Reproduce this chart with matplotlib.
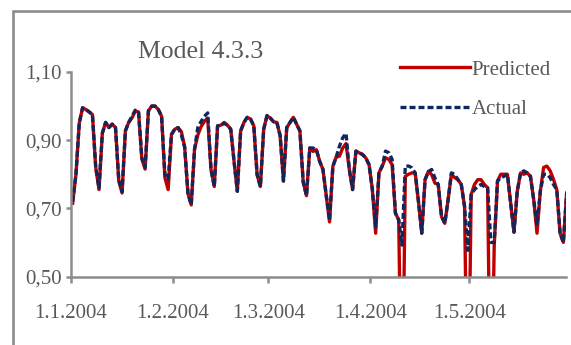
import numpy as np
import matplotlib
matplotlib.use("Agg")
import matplotlib.pyplot as plt
from matplotlib.patches import Rectangle

plt.rcParams['font.family'] = ['Liberation Serif', 'DejaVu Serif']

# daily values, 1.1.2004 .. 30.5.2004
actual = [
    0.72, 0.80, 0.95, 0.995, 0.99, 0.983, 0.975, 0.82, 0.76, 0.92,
    0.952, 0.937, 0.947, 0.937, 0.784, 0.749, 0.927, 0.952, 0.97, 0.988,
    0.983, 0.848, 0.82, 0.986, 1.0, 1.0, 0.99, 0.97, 0.80, 0.785,
    0.917, 0.932, 0.937, 0.915, 0.88, 0.744, 0.71, 0.873, 0.937, 0.955,
    0.97, 0.98, 0.814, 0.764, 0.942, 0.944, 0.949, 0.944, 0.932, 0.838,
    0.75, 0.927, 0.952, 0.967, 0.962, 0.942, 0.799, 0.764, 0.932, 0.972,
    0.965, 0.954, 0.952, 0.913, 0.78, 0.937, 0.952, 0.967, 0.947, 0.927,
    0.777, 0.737, 0.877, 0.877, 0.872, 0.838, 0.814, 0.737, 0.665, 0.823,
    0.85, 0.882, 0.907, 0.92, 0.814, 0.755, 0.868, 0.863, 0.858, 0.848,
    0.828, 0.755, 0.645, 0.804, 0.824, 0.868, 0.863, 0.844, 0.686, 0.666,
    0.592, 0.824, 0.824, 0.819, 0.804, 0.72, 0.627, 0.784, 0.808, 0.814,
    0.789, 0.77, 0.676, 0.656, 0.725, 0.804, 0.80, 0.784, 0.77, 0.705,
    0.577, 0.74, 0.755, 0.764, 0.77, 0.764, 0.76, 0.60, 0.60, 0.78,
    0.79, 0.794, 0.80, 0.715, 0.63, 0.75, 0.804, 0.81, 0.804, 0.794,
    0.725, 0.65, 0.75, 0.80, 0.80, 0.79, 0.77, 0.755, 0.627, 0.60,
    0.745,
]
predicted = [
    0.715, 0.80, 0.95, 0.995, 0.99, 0.983, 0.975, 0.82, 0.755, 0.92,
    0.952, 0.937, 0.947, 0.937, 0.78, 0.745, 0.927, 0.952, 0.965, 0.985,
    0.983, 0.845, 0.815, 0.986, 1.0, 1.0, 0.99, 0.97, 0.79, 0.755,
    0.917, 0.932, 0.937, 0.925, 0.88, 0.744, 0.71, 0.873, 0.915, 0.94,
    0.955, 0.965, 0.814, 0.764, 0.942, 0.944, 0.952, 0.944, 0.932, 0.838,
    0.75, 0.927, 0.952, 0.967, 0.962, 0.942, 0.799, 0.764, 0.932, 0.972,
    0.965, 0.954, 0.952, 0.913, 0.78, 0.937, 0.952, 0.967, 0.947, 0.927,
    0.777, 0.737, 0.877, 0.867, 0.872, 0.838, 0.814, 0.737, 0.66, 0.823,
    0.85, 0.853, 0.877, 0.89, 0.814, 0.755, 0.868, 0.863, 0.858, 0.848,
    0.828, 0.755, 0.627, 0.804, 0.824, 0.848, 0.844, 0.828, 0.686, 0.666,
    0.0, 0.794, 0.80, 0.804, 0.804, 0.72, 0.627, 0.784, 0.808, 0.799,
    0.774, 0.77, 0.676, 0.656, 0.725, 0.80, 0.79, 0.784, 0.77, 0.705,
    0.0, 0.74, 0.77, 0.784, 0.784, 0.77, 0.76, 0.0, 0.59, 0.78,
    0.80, 0.80, 0.80, 0.715, 0.63, 0.75, 0.804, 0.80, 0.804, 0.794,
    0.725, 0.627, 0.75, 0.82, 0.824, 0.81, 0.785, 0.755, 0.627, 0.60,
    0.745,
]

tick_days = [0, 31, 60, 91, 121]
tick_labels = ['1.1.2004', '1.2.2004', '1.3.2004', '1.4.2004', '1.5.2004']
y_ticks = [0.50, 0.70, 0.90, 1.10]
y_labels = ['0,50', '0,70', '0,90', '1,10']

W, H = 571, 345
fig = plt.figure(figsize=(W / 100, H / 100), dpi=100)

# outer chart border, only left and top visible
fig.patches.append(Rectangle((13 / W, -0.2), 1.2, 1 - 10.7 / H + 0.2,
                             transform=fig.transFigure, fill=False,
                             edgecolor='#8c8c8c', linewidth=1.9))

ax = fig.add_axes([70.7 / W, (H - 276.5) / H, (566 - 70.7) / W, (276.5 - 72) / H])

days = np.arange(len(actual)) + 0.6
text_col = '#595959'
axis_col = '#8c8c8c'

ax.plot(days, predicted, color='#c00000', lw=2.4, label='Predicted')
ax.plot(days, actual, color='#10275e', lw=2.4, dashes=(1.8, 0.9), label='Actual')

ax.set_xlim(0, 150.4)
ax.set_ylim(0.5, 1.1)
ax.set_xticks(tick_days)
ax.set_xticklabels(tick_labels)
ax.set_yticks(y_ticks)
ax.set_yticklabels(y_labels)

for s in ['top', 'right']:
    ax.spines[s].set_visible(False)
for s in ['left', 'bottom']:
    ax.spines[s].set_color(axis_col)
    ax.spines[s].set_linewidth(1.8)

ax.tick_params(axis='x', colors=axis_col, labelcolor=text_col, labelsize=15,
               length=4.5, width=1.8, pad=15.5)
ax.tick_params(axis='y', colors=axis_col, labelcolor=text_col, labelsize=15,
               length=3.6, width=1.8, pad=3)

fig.text(201 / W, 1 - 52 / H, 'Model 4.3.3', fontsize=18.5, color=text_col,
         ha='center', va='center')

leg = ax.legend(loc='upper left', bbox_to_anchor=(400 / W, 1 - 60 / H),
                bbox_transform=fig.transFigure, frameon=False, fontsize=15,
                handlelength=3.37, handletextpad=0.08, borderpad=0,
                borderaxespad=0, labelspacing=0.95, labelcolor=text_col)

fig.savefig('out.png', dpi=100)
